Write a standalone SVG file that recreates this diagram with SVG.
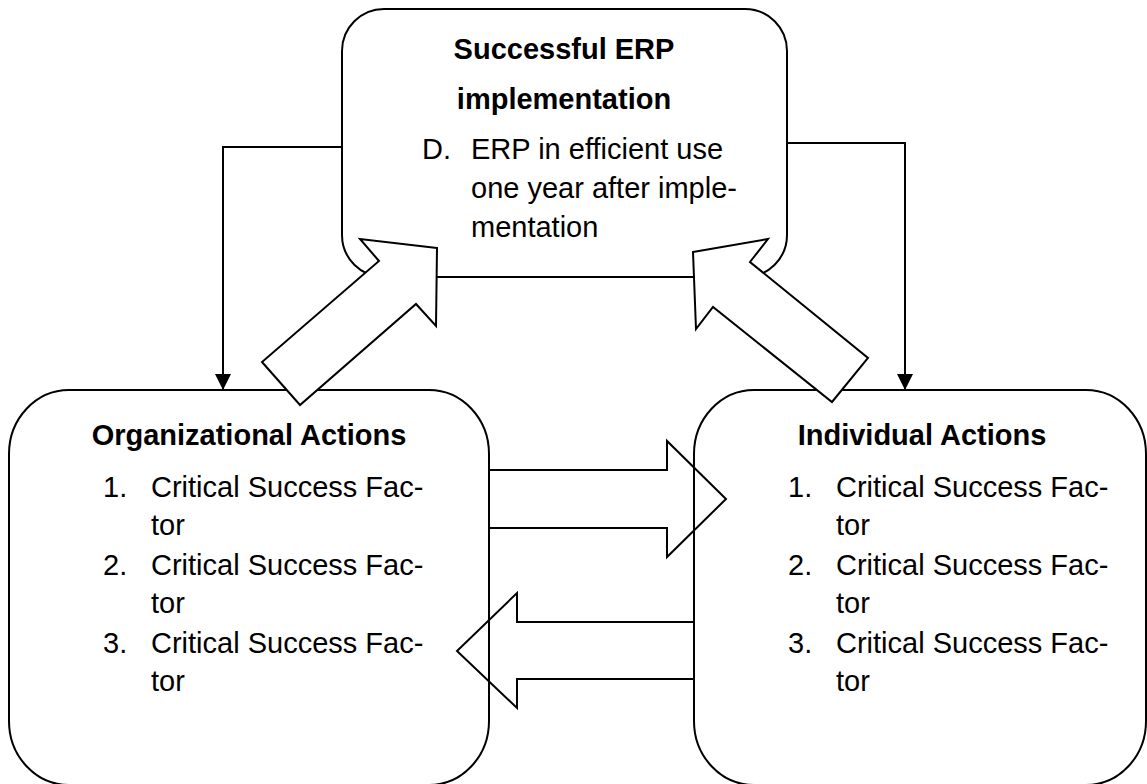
<svg xmlns="http://www.w3.org/2000/svg" width="1147" height="784" viewBox="0 0 1147 784">
  <defs>
    <style>
      .box { fill: #ffffff; stroke: #000000; stroke-width: 2; }
      .txt { font-family: "Liberation Sans", Arial, Helvetica, sans-serif; font-size: 29px; fill: #000000; }
      .title { font-weight: bold; text-anchor: middle; }
      .line { fill: none; stroke: #000000; stroke-width: 2; }
      .block { stroke: #000000; stroke-width: 2; stroke-linejoin: miter; }
      .block-open { fill: none; }
      .block-solid { fill: #ffffff; }
    </style>
    <marker id="arrowhead" markerUnits="userSpaceOnUse" markerWidth="16" markerHeight="16" viewBox="0 0 16 16" refX="16" refY="8" orient="auto">
      <path d="M0,0 L16,8 L0,16 Z" fill="#000000"/>
    </marker>
  </defs>

  <rect width="1147" height="784" fill="#ffffff"/>

  <!-- Top node: successful ERP implementation -->
  <g id="node-erp">
    <rect class="box" x="342" y="9" width="445" height="268" rx="42" ry="42"/>
    <text class="txt title" x="564" y="59">Successful ERP</text>
    <text class="txt title" x="564" y="109">implementation</text>
    <text class="txt" x="422" y="159">D.</text>
    <text class="txt" x="471" y="159">ERP in efficient use</text>
    <text class="txt" x="471" y="198">one year after imple-</text>
    <text class="txt" x="471" y="237">mentation</text>
  </g>

  <!-- Bottom-left node: organizational actions -->
  <g id="node-organizational">
    <rect class="box" x="9" y="390" width="480" height="395" rx="60" ry="64"/>
    <text class="txt title" x="249" y="445">Organizational Actions</text>
    <text class="txt" x="103" y="497">1.</text>
    <text class="txt" x="151" y="497">Critical Success Fac-</text>
    <text class="txt" x="151" y="535">tor</text>
    <text class="txt" x="103" y="575">2.</text>
    <text class="txt" x="151" y="575">Critical Success Fac-</text>
    <text class="txt" x="151" y="613">tor</text>
    <text class="txt" x="103" y="653">3.</text>
    <text class="txt" x="151" y="653">Critical Success Fac-</text>
    <text class="txt" x="151" y="691">tor</text>
  </g>

  <!-- Bottom-right node: individual actions -->
  <g id="node-individual">
    <rect class="box" x="694" y="390" width="452" height="395" rx="60" ry="64"/>
    <text class="txt title" x="922" y="445">Individual Actions</text>
    <text class="txt" x="788" y="497">1.</text>
    <text class="txt" x="836" y="497">Critical Success Fac-</text>
    <text class="txt" x="836" y="535">tor</text>
    <text class="txt" x="788" y="575">2.</text>
    <text class="txt" x="836" y="575">Critical Success Fac-</text>
    <text class="txt" x="836" y="613">tor</text>
    <text class="txt" x="788" y="653">3.</text>
    <text class="txt" x="836" y="653">Critical Success Fac-</text>
    <text class="txt" x="836" y="691">tor</text>
  </g>

  <!-- Connectors -->
  <g id="connectors">
    <!-- block arrow: organizational -> individual -->
    <path class="block block-open" d="M489,470 L667,470 L667,441 L726,499 L667,557 L667,528 L489,528"/>
    <!-- block arrow: individual -> organizational -->
    <path class="block block-open" d="M694,622 L517,622 L517,593 L457,651 L517,708 L517,679 L694,679"/>

    <!-- feedback lines from the ERP outcome down to each action box -->
    <path class="line" d="M342,147 L223,147 L223,390" marker-end="url(#arrowhead)"/>
    <path class="line" d="M787,143 L905,143 L905,390" marker-end="url(#arrowhead)"/>

    <!-- block arrow: organizational -> ERP -->
    <path class="block block-solid" d="M437,248 L360,239 L379,261 L262,362 L300,405 L416,304 L436,326 Z"/>
    <!-- block arrow: individual -> ERP -->
    <path class="block block-solid" d="M693,252 L768,239 L750,262 L868,358 L832,402 L713,307 L696,329 Z"/>
  </g>
</svg>
